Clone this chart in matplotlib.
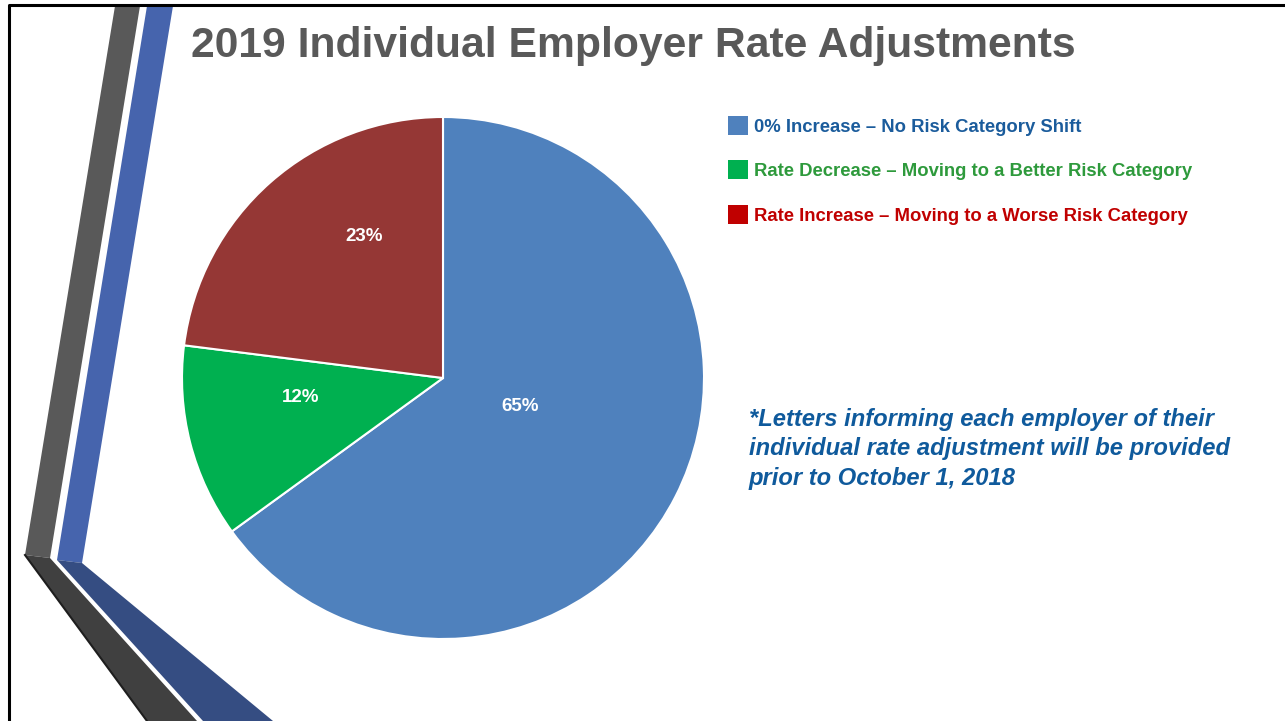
import numpy as np
from matplotlib import pyplot as plt
from matplotlib.patches import Polygon, Rectangle

plt.rcParams['font.family'] = ['Liberation Sans', 'DejaVu Sans']

# data
categories = ['0% Increase \u2013 No Risk Category Shift',
              'Rate Decrease \u2013 Moving to a Better Risk Category',
              'Rate Increase \u2013 Moving to a Worse Risk Category']
shares = [65, 12, 23]
pie_colors = ['#4F81BD', '#00B050', '#953735']
legend_box_colors = ['#4F81BD', '#00B050', '#C00000']
legend_text_colors = ['#1B5C9C', '#2E9A3C', '#C00000']
title = '2019 Individual Employer Rate Adjustments'
note_lines = ['*Letters informing each employer of their',
              'individual rate adjustment will be provided',
              'prior to October 1, 2018']

W, H = 1285, 721
fig = plt.figure(figsize=(W / 100, H / 100), dpi=100)

# background layer in pixel coordinates
bg = fig.add_axes([0, 0, 1, 1])
bg.set_xlim(0, W)
bg.set_ylim(H, 0)
bg.axis('off')

# slide frame
bg.plot([9, 9, W], [H, 5, 5], color='black', lw=2.2, solid_capstyle='butt')

# decorative stripes on the left
bg.add_patch(Polygon([(115, 6), (140, 6), (50, 558), (25, 555)], color='#595959', lw=0))
bg.add_patch(Polygon([(147, 6), (173, 6), (82, 563), (57, 560)], color='#4664AD', lw=0))
bg.add_patch(Polygon([(25, 555), (50, 558), (197, 721), (147, 721)], color='#404040', lw=0))
bg.plot([25, 147], [555, 721], color='#1E1E1E', lw=1.5)
bg.add_patch(Polygon([(57, 560), (82, 563), (273, 721), (203, 721)], color='#354D82', lw=0))

bg.text(191, 57, title, fontsize=30.7, fontweight='bold', color='#595959', va='baseline', ha='left')

# legend drawn by hand
rows_y = [132, 176, 221]
for label, box_c, txt_c, y in zip(categories, legend_box_colors, legend_text_colors, rows_y):
    bg.add_patch(Rectangle((728, y - 16), 20, 19, color=box_c, lw=0))
    bg.text(754, y, label, fontsize=13.3, fontweight='bold', color=txt_c, va='baseline', ha='left')

for i, line in enumerate(note_lines):
    bg.text(749, 426 + i * 29.3, line, fontsize=17.1, fontweight='bold', fontstyle='italic',
            color='#0F5A9C', va='baseline', ha='left')

# pie
cx, cy, r = 443, 378, 261
ax = fig.add_axes([(cx - r) / W, (H - cy - r) / H, 2 * r / W, 2 * r / H])
wedges, _, autotexts = ax.pie(shares, colors=pie_colors, startangle=90, counterclock=False,
                              autopct='%d%%', radius=1,
                              wedgeprops=dict(edgecolor='white', linewidth=1.5),
                              textprops=dict(color='white', fontsize=13.5, fontweight='bold'))
ax.set_xlim(-1, 1)
ax.set_ylim(-1, 1)
ax.axis('off')

# label placement (polar, like PowerPoint's best fit)
label_pos = [(-20.6, 0.315), (188.0, 0.55), (119.3, 0.62)]
for t, (ang, rr) in zip(autotexts, label_pos):
    a = np.deg2rad(ang)
    t.set_position((rr * np.cos(a), rr * np.sin(a)))
    t.set_ha('center')
    t.set_va('center')

# the slide crops the bottom of the pie slightly
clip = Rectangle((-1.1, -(636 - cy) / r), 2.2, 2.2, transform=ax.transData)
for w in wedges:
    w.set_clip_path(clip)

fig.savefig('out.png', dpi=100)
